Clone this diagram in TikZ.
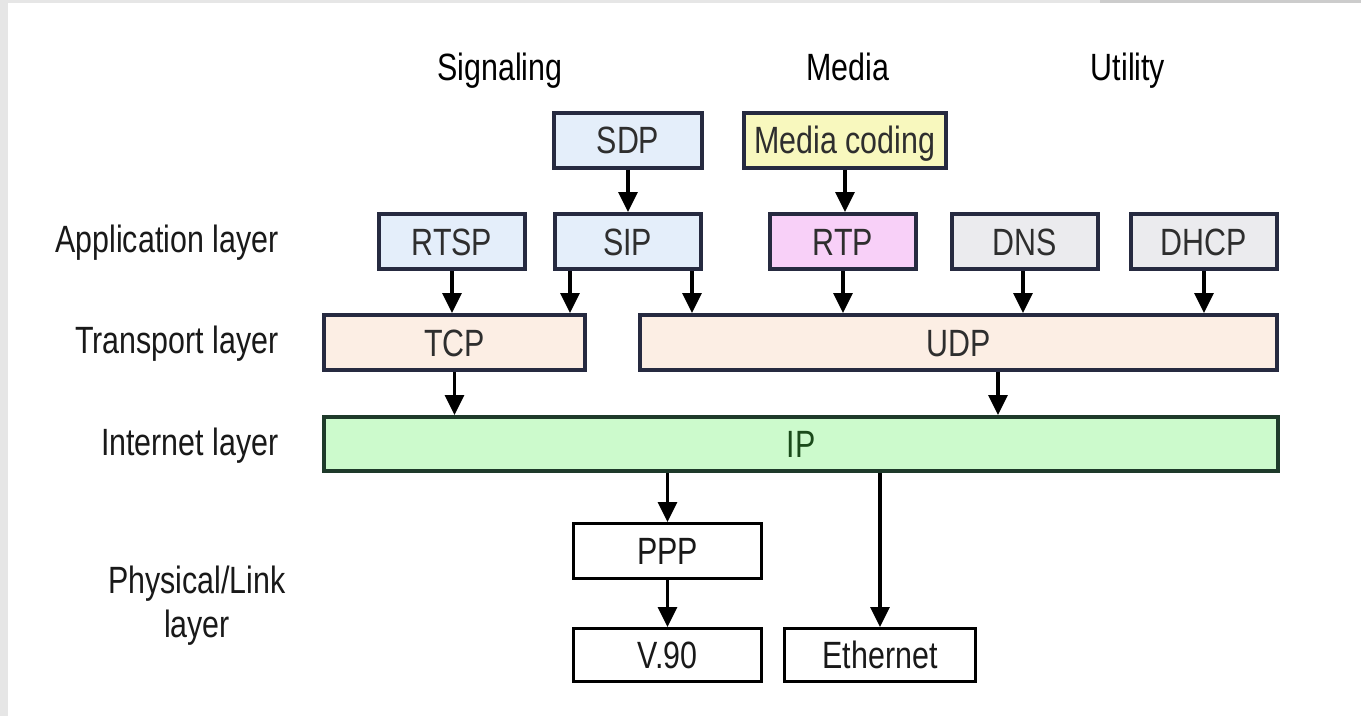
\documentclass[tikz,border=0pt]{standalone}
\usepackage{fontspec}
\setmainfont[FakeStretch=0.8]{Liberation Sans}
\usetikzlibrary{positioning,arrows.meta}

\definecolor{pagegray}{HTML}{E6E6E6}
\definecolor{boxline}{HTML}{262A40}
\definecolor{sigblue}{HTML}{E4EEFA}
\definecolor{medyellow}{HTML}{F8F8BE}
\definecolor{rtppink}{HTML}{F8D0F8}
\definecolor{utilgray}{HTML}{EBEBEE}
\definecolor{transpeach}{HTML}{FCEEE4}
\definecolor{ipgreen}{HTML}{CCFACC}
\definecolor{ipline}{HTML}{1E3A2A}
\definecolor{iptext}{HTML}{1A4A1A}
\definecolor{boxtext}{HTML}{2E2E2E}

\tikzset{
  layerbox/.style={draw=boxline, line width=4pt, inner sep=0pt,
    text height=27pt, text depth=0pt, text=boxtext},
  appbox/.style={layerbox, minimum width=146pt, minimum height=55pt},
  linkbox/.style={draw=black, line width=3pt, fill=white, inner sep=0pt,
    text height=27pt, text depth=0pt, text=black!90},
  flow/.style={line width=3.2pt, -{Triangle[length=20pt,width=19pt]}},
  layerlbl/.style={anchor=base east, text=black!90},
}

\begin{document}
\begin{tikzpicture}[x=1pt, y=-1pt, font=\fontsize{38}{44}\selectfont]

% ── Page ─────────────────────────────────────────────────────
\fill[pagegray] (0,0) rectangle (1361,716);
\fill[white] (8,3) rectangle (1361,716);
\fill[black!20] (1100,0) rectangle (1361,3);
\useasboundingbox (0,0) rectangle (1361,716);

% ── Row y-values (px from top) ───────────────────────────────
\def\yA{140}     % SDP, Media coding
\def\yB{241.5}   % application layer
\def\yC{342.5}   % transport layer
\def\yD{444}     % internet layer
\def\yE{551}     % PPP
\def\yF{655}     % V.90, Ethernet

% ── Column headers ───────────────────────────────────────────
\node[anchor=base] (sighead) at (500,80)  {Signaling};
\node[anchor=base] (medhead) at (848,80)  {Media};
\node[anchor=base] (utlhead) at (1128,80) {Utility};

% ── Layer labels ─────────────────────────────────────────────
\node[layerlbl] (applbl) at (282,252) {Application layer};
\node[layerlbl] (trnlbl) at (282,353) {Transport layer};
\node[layerlbl] (inetlbl) at (282,455) {Internet layer};
% base of a two-line node is the baseline of its last line
\node[anchor=base, align=center, text=black!90] (physlbl) at (197,637) {Physical/Link\\layer};

% ── Boxes ────────────────────────────────────────────────────
\node[layerbox, fill=sigblue, minimum width=148pt, minimum height=55pt] (sdp) at (628,\yA) {SDP};
\node[layerbox, fill=medyellow, minimum width=202pt, minimum height=55pt] (coding) at (845,\yA) {Media coding};

\foreach \name/\px/\col/\lbl in {
    rtsp/452/sigblue/RTSP, sip/627.5/sigblue/SIP, rtp/843/rtppink/RTP,
    dns/1025/utilgray/DNS, dhcp/1204/utilgray/DHCP} {
    \node[appbox, fill=\col] (\name) at (\px,\yB) {\lbl};
}

\node[layerbox, fill=transpeach, minimum width=261pt, minimum height=55pt] (tcp) at (454.5,\yC) {TCP};
\node[layerbox, fill=transpeach, minimum width=637pt, minimum height=55pt] (udp) at (958.5,\yC) {UDP};
\node[layerbox, draw=ipline, fill=ipgreen, text=iptext, minimum width=954pt, minimum height=54pt] (ip) at (801,\yD) {IP};

\node[linkbox, minimum width=188pt, minimum height=55pt] (ppp) at (667.5,\yE) {PPP};
\node[linkbox, minimum width=188pt, minimum height=53pt] (v90) at (667.5,\yF) {V.90};
\node[linkbox, minimum width=191pt, minimum height=53pt] (eth) at (880,\yF) {Ethernet};

% ── Arrows (source x-offset from centre) ─────────────────────
\draw[flow] (sdp) -- (sdp.south |- sip.north);
\draw[flow] (coding) -- (coding.south |- rtp.north);
\foreach \src/\dx/\dst in {
    rtsp/0/tcp, sip/-57.5/tcp, sip/64.5/udp, rtp/0/udp,
    dns/-2/udp, dhcp/0/udp, tcp/0/ip, udp/39.5/ip} {
    \coordinate (from) at ([xshift=\dx pt]\src.south);
    \draw[flow] (from) -- (from |- \dst.north);
}
\draw[flow] (ppp.north |- ip.south) -- (ppp.north);
\draw[flow] (ppp) -- (v90);
\draw[flow] (eth.north |- ip.south) -- (eth.north);

\end{tikzpicture}
\end{document}
